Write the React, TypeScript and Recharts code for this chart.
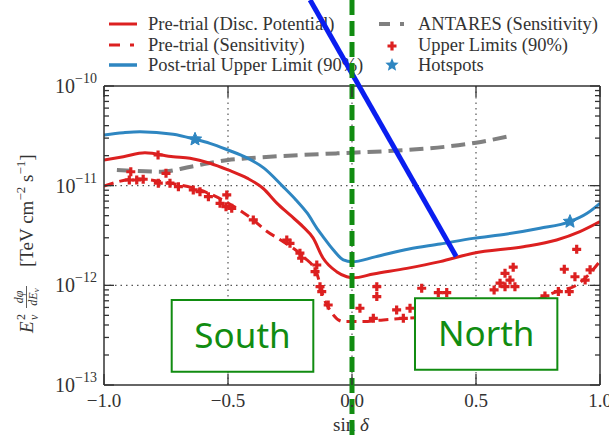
import React from 'react';
import { ComposedChart, Line, Scatter, XAxis, YAxis, CartesianGrid, ReferenceLine, ReferenceArea } from 'recharts';

// Pre-trial discovery potential (red solid)
const discX = [-1.0, -0.922, -0.835, -0.721, -0.653, -0.573, -0.5, -0.423, -0.359, -0.302, -0.25, -0.198, -0.157, -0.117, -0.062, -0.021, 0.005, 0.086, 0.221, 0.355, 0.489, 0.691, 0.825, 0.919, 1.0];
const discY = [1.81e-11, 1.95e-11, 2.14e-11, 1.95e-11, 1.88e-11, 1.68e-11, 1.44e-11, 1.19e-11, 9.42e-12, 6.65e-12, 5.08e-12, 3.88e-12, 2.99e-12, 1.88e-12, 1.37e-12, 1.22e-12, 1.19e-12, 1.30e-12, 1.48e-12, 1.73e-12, 2.10e-12, 2.44e-12, 2.85e-12, 3.46e-12, 4.36e-12];

// Pre-trial sensitivity (red dashed)
const sensX = [-1.0, -0.868, -0.734, -0.613, -0.5, -0.398, -0.351, -0.277, -0.196, -0.142, -0.116, -0.089, -0.035, 0.046, 0.126, 0.221, 0.35, 0.55, 0.7, 0.825, 0.906, 0.946, 1.0];
const sensY = [9.9e-12, 1.17e-11, 1.06e-11, 9.06e-12, 6.7e-12, 4.53e-12, 3.6e-12, 2.74e-12, 1.94e-12, 1.32e-12, 7.71e-13, 5.66e-13, 4.33e-13, 4.33e-13, 4.5e-13, 4.68e-13, 4.9e-13, 5.6e-13, 6.5e-13, 8.65e-13, 1.01e-12, 1.22e-12, 1.75e-12];

// Post-trial upper limit (blue)
const postX = [-1.0, -0.922, -0.855, -0.721, -0.633, -0.573, -0.5, -0.423, -0.355, -0.278, -0.226, -0.181, -0.137, -0.117, -0.075, -0.035, 0.0, 0.093, 0.23, 0.355, 0.488, 0.625, 0.758, 0.879, 0.948, 1.0];
const postY = [3.23e-11, 3.4e-11, 3.48e-11, 3.28e-11, 2.92e-11, 2.66e-11, 2.28e-11, 1.9e-11, 1.5e-11, 9.77e-12, 7.19e-12, 5.32e-12, 3.6e-12, 3.08e-12, 2.26e-12, 1.8e-12, 1.72e-12, 1.93e-12, 2.32e-12, 2.6e-12, 2.96e-12, 3.28e-12, 3.74e-12, 4.36e-12, 5.28e-12, 6.65e-12];

// ANTARES sensitivity (gray dashed)
const antaresX = [-0.948, -0.767, -0.65, -0.5, -0.423, -0.06, 0.0, 0.5, 0.625];
const antaresY = [1.44e-11, 1.38e-11, 1.55e-11, 1.81e-11, 1.88e-11, 2.11e-11, 2.14e-11, 2.7e-11, 3.1e-11];

// Upper limits (90%) of the sources
const ulX = [-0.892, -0.898, -0.868, -0.842, -0.782, -0.781, -0.75, -0.734, -0.7, -0.64, -0.613, -0.579, -0.532, -0.505, -0.508, -0.485, -0.398, -0.263, -0.25, -0.21, -0.203, -0.142, -0.149, -0.129, -0.122, -0.096,
  0.032, 0.086, 0.1, 0.1, 0.18, 0.207, 0.234, 0.281, 0.348, 0.382, 0.573, 0.597, 0.617, 0.617, 0.637, 0.65, 0.657, 0.778, 0.832, 0.856, 0.876, 0.899, 0.906, 0.94, 0.96];
const ulY = [1.38e-11, 1.14e-11, 1.14e-11, 1.16e-11, 2.03e-11, 1.06e-11, 1.33e-11, 1.06e-11, 9.77e-12, 9.06e-12, 8.71e-12, 7.76e-12, 6.65e-12, 8.07e-12, 6.15e-12, 5.93e-12, 4.53e-12, 2.85e-12, 2.64e-12, 2.1e-12, 1.87e-12, 1.6e-12, 1.37e-12, 9.7e-13, 8.65e-13, 6.35e-13,
  5.89e-13, 4.67e-13, 9.7e-13, 7.71e-13, 5.66e-13, 4.67e-13, 5.89e-13, 9.35e-13, 8.45e-13, 8.45e-13, 9.0e-13, 1.05e-12, 1.32e-12, 9.7e-13, 1.13e-12, 1.52e-12, 9.7e-13, 7.83e-13, 8.65e-13, 1.45e-12, 8.65e-13, 1.22e-12, 2.3e-12, 1.13e-12, 1.43e-12];

// Hotspots
const hotX = [-0.633, 0.879];
const hotY = [2.92e-11, 4.36e-12];

const xTicks = [-1, -0.5, 0, 0.5, 1];
const xTickLabels = ['\u22121.0', '\u22120.5', '0.0', '0.5', '1.0'];
const yMajor = [1e-13, 1e-12, 1e-11, 1e-10];
const yMinor = [-13, -12, -11].flatMap((e) => [2, 3, 4, 5, 6, 7, 8, 9].map((m) => m * Math.pow(10, e)));
const yTicks = [...yMajor, ...yMinor];

// annotation boxes and lines (data coordinates)
const southBox = { x1: -0.727, x2: -0.156, y1: 1.36e-13, y2: 7.14e-13 };
const northBox = { x1: 0.254, x2: 0.828, y1: 1.42e-13, y2: 7.43e-13 };
const greenSeg = [{ x: 0, y: 7.3e-10 }, { x: 0, y: 3e-14 }];
const blueSeg = [{ x: -0.169, y: 7.3e-10 }, { x: 0.42, y: 1.95e-12 }];

const zip = (xs: number[], ys: number[]) => xs.map((x, i) => ({ x, y: ys[i] }));
const disc = zip(discX, discY);
const sens = zip(sensX, sensY);
const post = zip(postX, postY);
const antares = zip(antaresX, antaresY);
const upperLimits = zip(ulX, ulY);
const hotspots = zip(hotX, hotY);

const RED = '#dc2020';
const BLUE = '#2e86c1';
const GRAY = '#808080';
const GREEN = '#118c11';
const INK = '#333';
const FONT = '"Liberation Serif", "DejaVu Serif", serif';

const plusPath = (cx: number, cy: number, r: number) =>
  `M${cx - r},${cy}H${cx + r}M${cx},${cy - r}V${cy + r}`;

const starPath = (cx: number, cy: number, r: number) => {
  const pts: string[] = [];
  for (let i = 0; i < 10; i++) {
    const rr = i % 2 === 0 ? r : r * 0.45;
    const a = -Math.PI / 2 + (i * Math.PI) / 5;
    pts.push(`${cx + rr * Math.cos(a)},${cy + rr * Math.sin(a)}`);
  }
  return 'M' + pts.join('L') + 'Z';
};

const PlusShape = (props: any) => (
  <path d={plusPath(props.cx, props.cy, 4.5)} stroke={RED} strokeWidth={3.2} fill="none" />
);

const StarShape = (props: any) => (
  <path d={starPath(props.cx, props.cy, 7)} fill={BLUE} stroke={BLUE} strokeWidth={1} />
);

const BottomTick = (props: any) => {
  const { x, y, payload } = props;
  const i = xTicks.indexOf(payload.value);
  return (
    <g>
      <line x1={x} x2={x} y1={y} y2={y - 11} stroke={INK} strokeWidth={1.3} />
      <text x={x} y={y + 22} textAnchor="middle" fontSize={19} fontFamily={FONT} fill={INK}>
        {xTickLabels[i]}
      </text>
    </g>
  );
};

const TopTick = (props: any) => {
  const { x, y } = props;
  return <line x1={x} x2={x} y1={y} y2={y + 11} stroke={INK} strokeWidth={1.3} />;
};

const LeftTick = (props: any) => {
  const { x, y, payload } = props;
  const major = yMajor.includes(payload.value);
  const exp = Math.round(Math.log10(payload.value));
  return (
    <g>
      <line x1={x} x2={x + (major ? 10 : 5)} y1={y} y2={y} stroke={INK} strokeWidth={1.3} />
      {major && (
        <text x={x - 7} y={y + 7} textAnchor="end" fontSize={20} fontFamily={FONT} fill={INK}>
          10
          <tspan dy={-10} fontSize={14}>{`\u2212${-exp}`}</tspan>
        </text>
      )}
    </g>
  );
};

const RightTick = (props: any) => {
  const { x, y, payload } = props;
  const major = yMajor.includes(payload.value);
  return <line x1={x} x2={x - (major ? 10 : 5)} y1={y} y2={y} stroke={INK} strokeWidth={1.3} />;
};

const legendLeft = [
  { label: 'Pre-trial (Disc. Potential)', color: RED, dash: undefined, width: 3 },
  { label: 'Pre-trial (Sensitivity)', color: RED, dash: '11 10 4 20', width: 3 },
  { label: 'Post-trial Upper Limit (90%)', color: BLUE, dash: undefined, width: 3.5 },
];
const legendRight = ['ANTARES (Sensitivity)', 'Upper Limits (90%)', 'Hotspots'];
const legendRows = [24, 45, 65];

function Backdrop() {
  return (
    <svg width={609} height={436} style={{ position: 'absolute', left: 0, top: 0 }}>
      {legendLeft.map((item, i) => (
        <g key={item.label}>
          <line x1={109} x2={137} y1={legendRows[i]} y2={legendRows[i]} stroke={item.color} strokeWidth={item.width} strokeDasharray={item.dash} />
          <text x={148} y={legendRows[i] + 6} fontSize={18.5} fontFamily={FONT} fill={INK}>{item.label}</text>
        </g>
      ))}
      <line x1={379} x2={408} y1={legendRows[0]} y2={legendRows[0]} stroke={GRAY} strokeWidth={4} strokeDasharray="11 10 4 20" />
      <path d={plusPath(392, legendRows[1] + 1, 4.5)} stroke={RED} strokeWidth={3.2} fill="none" />
      <path d={starPath(392, legendRows[2], 7)} fill={BLUE} />
      {legendRight.map((label, i) => (
        <text key={label} x={418} y={legendRows[i] + 6} fontSize={18.5} fontFamily={FONT} fill={INK}>{label}</text>
      ))}

      {/* y axis label */}
      <g transform="translate(33,237) rotate(-90)" fontFamily={FONT} fill={INK}>
        <text x={-96} y={0} fontSize={19} fontStyle="italic">E</text>
        <text x={-83} y={-8} fontSize={12}>2</text>
        <text x={-83} y={5} fontSize={12} fontStyle="italic">ν</text>
        <text x={-60} y={-10} fontSize={12} fontStyle="italic" textAnchor="middle">dφ</text>
        <line x1={-71} x2={-49} y1={-6.5} y2={-6.5} stroke={INK} strokeWidth={0.8} />
        <text x={-60} y={4} fontSize={12} fontStyle="italic" textAnchor="middle">dE<tspan fontSize={9} dy={2}>ν</tspan></text>
        <text x={-30} y={0} fontSize={19}>
          [TeV cm
          <tspan dy={-8} fontSize={13}>−2</tspan>
          <tspan dy={8} fontSize={19}> s</tspan>
          <tspan dy={-8} fontSize={13}>−1</tspan>
          <tspan dy={8} fontSize={19}>]</tspan>
        </text>
      </g>

      {/* x axis label */}
      <text x={351} y={431} textAnchor="middle" fontSize={19} fontFamily={FONT} fill={INK}>
        sin <tspan fontStyle="italic">δ</tspan>
      </text>
    </svg>
  );
}

export default function App() {
  return (
    <div style={{ position: 'absolute', left: 0, top: 0, width: 609, height: 436, background: '#fff' }}>
      <Backdrop />
      <ComposedChart width={609} height={436} margin={{ top: 85, right: 8, bottom: 50, left: 103 }} style={{ position: 'absolute', left: 0, top: 0 }}>
        <CartesianGrid horizontalValues={[1e-12, 1e-11]} verticalValues={[-0.5, 0, 0.5]} stroke="#555" strokeDasharray="1.5 4" strokeWidth={1.2} />
        <XAxis dataKey="x" type="number" domain={[-1, 1]} ticks={xTicks} interval={0} height={1} tickSize={0} tickMargin={0} tickLine={false}
          tick={<BottomTick />} axisLine={{ stroke: INK, strokeWidth: 1.5 }} allowDataOverflow />
        <XAxis xAxisId="top" orientation="top" dataKey="x" type="number" domain={[-1, 1]} ticks={xTicks} interval={0} height={1} tickSize={0} tickMargin={0}
          tickLine={false} tick={<TopTick />} axisLine={{ stroke: INK, strokeWidth: 1.5 }} allowDataOverflow />
        <YAxis dataKey="y" type="number" scale="log" domain={[1e-13, 1e-10]} ticks={yTicks} interval={0} width={1} tickSize={0} tickMargin={0}
          tickLine={false} tick={<LeftTick />} axisLine={{ stroke: INK, strokeWidth: 1.5 }} allowDataOverflow />
        <YAxis yAxisId="right" orientation="right" dataKey="y" type="number" scale="log" domain={[1e-13, 1e-10]} ticks={yTicks} interval={0} width={1}
          tickSize={0} tickMargin={0} tickLine={false} tick={<RightTick />} axisLine={{ stroke: INK, strokeWidth: 1.5 }} allowDataOverflow />

        <Line data={antares} dataKey="y" stroke={GRAY} strokeWidth={4} strokeDasharray="14 7" dot={false} type="monotone" isAnimationActive={false} />
        <Line data={sens} dataKey="y" stroke={RED} strokeWidth={3} strokeDasharray="10 6" dot={false} type="monotone" isAnimationActive={false} />
        <Line data={disc} dataKey="y" stroke={RED} strokeWidth={3} dot={false} type="monotone" isAnimationActive={false} />
        <Line data={post} dataKey="y" stroke={BLUE} strokeWidth={3} dot={false} type="monotone" isAnimationActive={false} />
        <Scatter data={upperLimits} dataKey="y" shape={PlusShape} isAnimationActive={false} />
        <Scatter data={hotspots} dataKey="y" shape={StarShape} isAnimationActive={false} />

        <ReferenceArea {...southBox} fill="#fff" fillOpacity={1} stroke={GREEN} strokeWidth={2} ifOverflow="visible" zIndex={700}
          label={{ value: 'South', position: 'center', fill: GREEN, fontSize: 35, fontFamily: '"Noto Sans", sans-serif' }} />
        <ReferenceArea {...northBox} fill="#fff" fillOpacity={1} stroke={GREEN} strokeWidth={2} ifOverflow="visible" zIndex={700}
          label={{ value: 'North', position: 'center', fill: GREEN, fontSize: 35, fontFamily: '"Noto Sans", sans-serif' }} />
        <ReferenceLine segment={blueSeg} stroke="#0a1ef0" strokeWidth={5} ifOverflow="visible" zIndex={900} />
        <ReferenceLine segment={greenSeg} stroke={GREEN} strokeWidth={5} strokeDasharray="15 6" ifOverflow="visible" zIndex={950} />
      </ComposedChart>
    </div>
  );
}
